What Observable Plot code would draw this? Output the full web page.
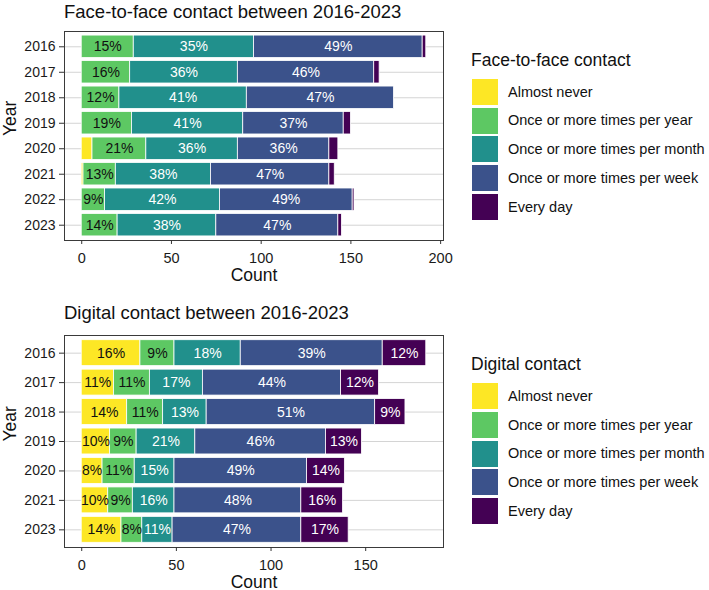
<!DOCTYPE html>
<html>
<head>
<meta charset="utf-8">
<script src="https://cdn.jsdelivr.net/npm/d3@7"></script>
<script src="https://cdn.jsdelivr.net/npm/@observablehq/plot@0.6"></script>
<style>
  html, body { margin: 0; padding: 0; background: #fff; }
  #page { position: relative; width: 709px; height: 590px; overflow: hidden;
          font-family: "Liberation Sans", Arial, Helvetica, sans-serif; color: #111; }
  .abs { position: absolute; white-space: nowrap; line-height: 1; }
  .title { font-size: 18.5px; }
  .ltitle { font-size: 17.5px; }
  .litem { position: absolute; display: flex; align-items: center; font-size: 14.5px; line-height: 1; white-space: nowrap; }
  .key { width: 26px; height: 26px; margin-right: 10px; }
</style>
</head>
<body>
<div id="page"></div>
<script>
// Response categories, in stacking order (left to right)
const categories = [
  "Almost never",
  "Once or more times per year",
  "Once or more times per month",
  "Once or more times per week",
  "Every day"
];
const palette = ["#FDE725", "#5DC863", "#21908C", "#3B528B", "#440154"];

// Face-to-face contact: counts per year
const f2fYears = [2016, 2017, 2018, 2019, 2020, 2021, 2022, 2023];
const f2fAlmostNever = [0, 0, 0, 0, 6, 1, 0, 0];
const f2fPerYear     = [29, 27, 21, 28, 30, 18, 13, 20];
const f2fPerMonth    = [67, 60, 71, 62, 51, 53, 64, 55];
const f2fPerWeek     = [94, 76, 82, 56, 51, 66, 74, 68];
const f2fEveryDay    = [2, 3, 0, 4, 5, 3, 1, 2];
// Face-to-face contact: printed percentages (null = not printed)
const f2fPctAlmostNever = [null, null, null, null, null, null, null, null];
const f2fPctPerYear     = [15, 16, 12, 19, 21, 13, 9, 14];
const f2fPctPerMonth    = [35, 36, 41, 41, 36, 38, 42, 38];
const f2fPctPerWeek     = [49, 46, 47, 37, 36, 47, 49, 47];
const f2fPctEveryDay    = [null, null, null, null, null, null, null, null];
const f2fTicks = [0, 50, 100, 150, 200];

// Digital contact: counts per year
const digYears = [2016, 2017, 2018, 2019, 2020, 2021, 2023];
const digAlmostNever = [31, 17, 24, 15, 11, 14, 21];
const digPerYear     = [18, 19, 19, 14, 17, 13, 11];
const digPerMonth    = [35, 28, 23, 31, 21, 22, 16];
const digPerWeek     = [75, 73, 89, 69, 70, 67, 68];
const digEveryDay    = [23, 20, 16, 19, 20, 22, 25];
// Digital contact: printed percentages
const digPctAlmostNever = [16, 11, 14, 10, 8, 10, 14];
const digPctPerYear     = [9, 11, 11, 9, 11, 9, 8];
const digPctPerMonth    = [18, 17, 13, 21, 15, 16, 11];
const digPctPerWeek     = [39, 44, 51, 46, 49, 48, 47];
const digPctEveryDay    = [12, 12, 9, 13, 14, 16, 17];
const digTicks = [0, 50, 100, 150];

const FONT = '"Liberation Sans", Arial, Helvetica, sans-serif';
const darkText = new Set(categories.slice(0, 2));

function buildRows(years, counts, pcts) {
  const rows = [];
  years.forEach((year, j) => {
    categories.forEach((cat, i) => {
      rows.push({year: String(year), cat, count: counts[i][j], pct: pcts[i][j]});
    });
  });
  return rows;
}

function stackedChart({years, counts, pcts, ticks, width, height, marginTop, marginBottom}) {
  const rows = buildRows(years, counts, pcts);
  const totals = d3.rollup(rows, v => d3.sum(v, d => d.count), d => d.year);
  const maxTotal = d3.max(totals.values());
  const pad = maxTotal * 0.05;
  const label = d => d.pct == null ? "" : `${d.pct}%`;
  return Plot.plot({
    width, height,
    marginLeft: 64, marginRight: 2, marginTop, marginBottom,
    style: {fontFamily: FONT, fontSize: "14px", color: "#1a1a1a", background: "transparent", overflow: "visible"},
    x: {domain: [-pad, maxTotal + pad], label: null},
    y: {domain: years.map(String), paddingInner: 0.12, paddingOuter: 0.16, round: false, label: null},
    color: {domain: categories, range: palette},
    marks: [
      Plot.gridY({stroke: "#d4d4d4", strokeOpacity: 1, strokeWidth: 1}),
      Plot.barX(rows, Plot.stackX({x: "count", y: "year", fill: "cat", stroke: "white", strokeWidth: 0.8})),
      Plot.text(rows, Plot.stackX({x: "count", y: "year", z: "cat",
        text: d => darkText.has(d.cat) ? label(d) : "", fill: "#111", fontSize: 14})),
      Plot.text(rows, Plot.stackX({x: "count", y: "year", z: "cat",
        text: d => darkText.has(d.cat) ? "" : label(d), fill: "white", fontSize: 14})),
      Plot.frame({stroke: "#3a3a3a", strokeWidth: 1}),
      Plot.axisX({ticks, tickSize: 4, tickPadding: 8, fontSize: 14.5, label: null, stroke: "#333"}),
      Plot.axisY({tickSize: 5, tickPadding: 4, fontSize: 14, label: null, stroke: "#333"}),
      Plot.text(["Count"], {frameAnchor: "bottom", lineAnchor: "bottom", dy: 40, fontSize: 17.5, fill: "#111"}),
      Plot.text(["Year"], {frameAnchor: "left", dx: -54, rotate: -90, fontSize: 17.5, fill: "#111"})
    ]
  });
}

function legend(page, title, left, titleTop, keyTop, step) {
  const t = document.createElement("div");
  t.className = "abs ltitle";
  t.style.left = left + "px";
  t.style.top = titleTop + "px";
  t.textContent = title;
  page.appendChild(t);
  categories.forEach((cat, i) => {
    const item = document.createElement("div");
    item.className = "litem";
    item.style.left = (left + 1) + "px";
    item.style.top = (keyTop + i * step) + "px";
    const key = document.createElement("div");
    key.className = "key";
    key.style.background = palette[i];
    const txt = document.createElement("span");
    txt.textContent = cat;
    item.appendChild(key);
    item.appendChild(txt);
    page.appendChild(item);
  });
}

function addTitle(page, text, left, y) {
  const t = document.createElement("div");
  t.className = "abs title";
  t.style.left = left + "px";
  t.style.top = y + "px";
  t.textContent = text;
  page.appendChild(t);
}

const page = document.getElementById("page");

// Face-to-face panel
const faceChart = stackedChart({
  years: f2fYears,
  counts: [f2fAlmostNever, f2fPerYear, f2fPerMonth, f2fPerWeek, f2fEveryDay],
  pcts: [f2fPctAlmostNever, f2fPctPerYear, f2fPctPerMonth, f2fPctPerWeek, f2fPctEveryDay],
  ticks: f2fTicks, width: 445, height: 286, marginTop: 31, marginBottom: 46
});
faceChart.style.position = "absolute";
faceChart.style.left = "0px";
faceChart.style.top = "0px";
page.appendChild(faceChart);
addTitle(page, "Face-to-face contact between 2016-2023", 64, 2.5);
legend(page, "Face-to-face contact", 471, 51.5, 79, 28.7);

// Digital panel
const digitalChart = stackedChart({
  years: digYears,
  counts: [digAlmostNever, digPerYear, digPerMonth, digPerWeek, digEveryDay],
  pcts: [digPctAlmostNever, digPctPerYear, digPctPerMonth, digPctPerWeek, digPctEveryDay],
  ticks: digTicks, width: 445, height: 286, marginTop: 31, marginBottom: 43
});
digitalChart.style.position = "absolute";
digitalChart.style.left = "0px";
digitalChart.style.top = "304px";
page.appendChild(digitalChart);
addTitle(page, "Digital contact between 2016-2023", 64, 304);
legend(page, "Digital contact", 471, 355.5, 383.3, 28.7);
</script>
</body>
</html>
